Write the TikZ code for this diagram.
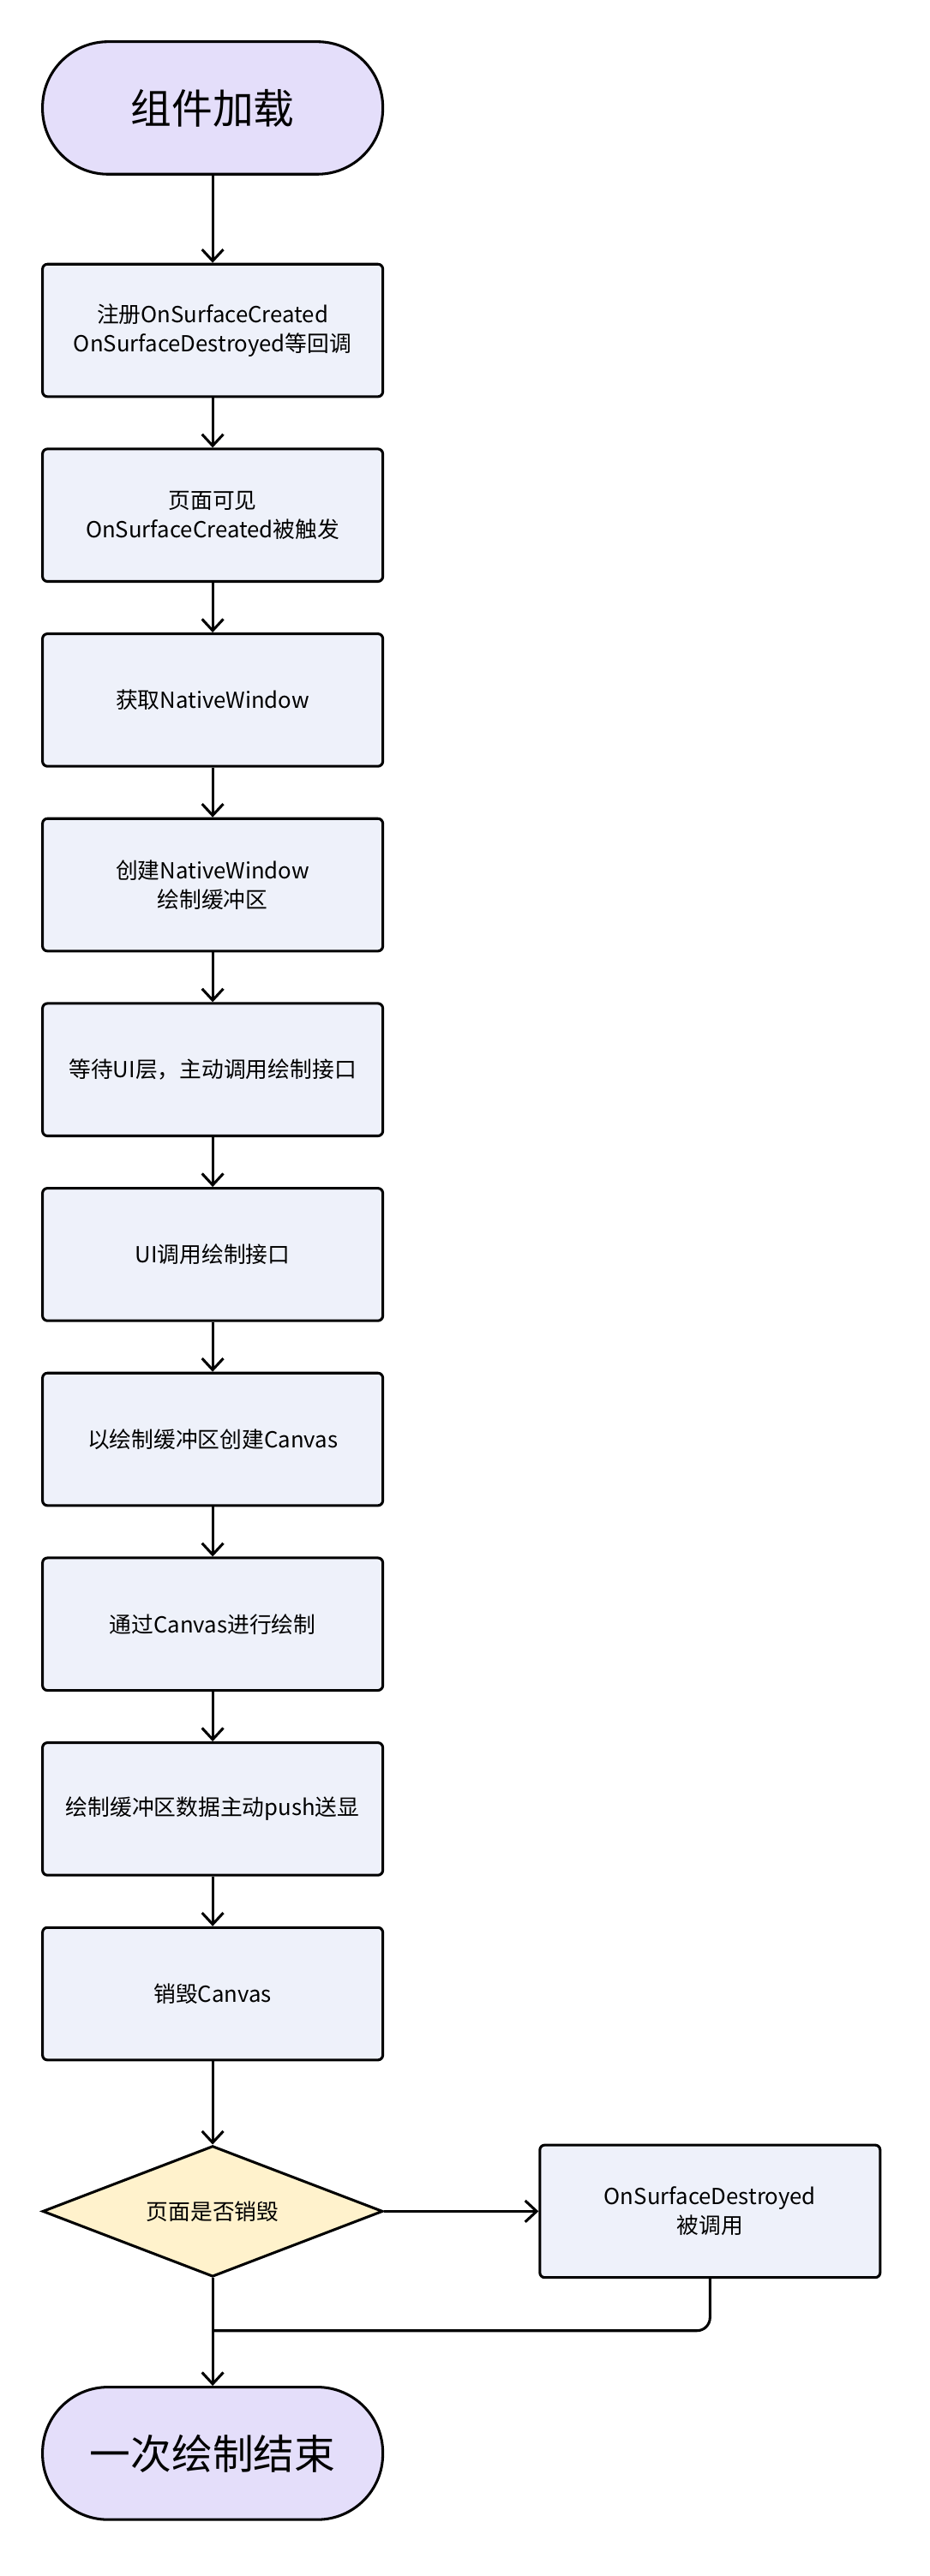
\documentclass[tikz,border=0pt]{standalone}
\usepackage{fontspec}
\setmainfont{Noto Sans CJK SC}
\usetikzlibrary{shapes.geometric,arrows.meta}
\definecolor{term}{HTML}{E4DEFA}
\definecolor{boxc}{HTML}{EEF1FA}
\definecolor{dia}{HTML}{FFF2CC}
\tikzset{
 every node/.style={font=\fontsize{13.5}{18}\selectfont, align=center},
 term/.style={draw, line width=1.6pt, fill=term, rounded corners=40pt, minimum width=208pt, minimum height=81pt, font=\fontsize{25}{30}\selectfont},
 stepbox/.style={draw, line width=1.6pt, fill=boxc, rounded corners=3pt, minimum width=208pt, minimum height=81pt},
 decis/.style={draw, line width=1.6pt, fill=dia, diamond, aspect=2.6, minimum width=208pt, minimum height=80pt, inner sep=0pt},
 arr/.style={-{Straight Barb[length=7pt,width=13pt]}, line width=1.6pt},
}
\begin{document}
\begin{tikzpicture}[x=1pt,y=-1pt]
\useasboundingbox[fill=white] (0,0) rectangle (568,1575);
\node[term] (s) at (130,66) {组件加载};
\node[stepbox] (b1) at (130,202) {注册OnSurfaceCreated\\OnSurfaceDestroyed等回调};
\node[stepbox] (b2) at (130,315) {页面可见\\OnSurfaceCreated被触发};
\node[stepbox] (b3) at (130,428) {获取NativeWindow};
\node[stepbox] (b4) at (130,541) {创建NativeWindow\\绘制缓冲区};
\node[stepbox] (b5) at (130,654) {等待UI层，主动调用绘制接口};
\node[stepbox] (b6) at (130,767) {UI调用绘制接口};
\node[stepbox] (b7) at (130,880) {以绘制缓冲区创建Canvas};
\node[stepbox] (b8) at (130,993) {通过Canvas进行绘制};
\node[stepbox] (b9) at (130,1106) {绘制缓冲区数据主动push送显};
\node[stepbox] (b10) at (130,1219) {销毁Canvas};
\node[decis] (d) at (130,1352) {页面是否销毁};
\node[stepbox] (r) at (434,1352) {OnSurfaceDestroyed\\被调用};
\node[term] (e) at (130,1500) {一次绘制结束};
\draw[arr] (s) -- (b1);
\foreach \a/\b in {b1/b2,b2/b3,b3/b4,b4/b5,b5/b6,b6/b7,b7/b8,b8/b9,b9/b10,b10/d} \draw[arr] (\a) -- (\b);
\draw[arr] (d) -- (r);
\draw[arr] (d) -- (e);
\draw[line width=1.6pt, rounded corners=8pt] (r.south) -- (434,1425) -- (130,1425);
\end{tikzpicture}
\end{document}
